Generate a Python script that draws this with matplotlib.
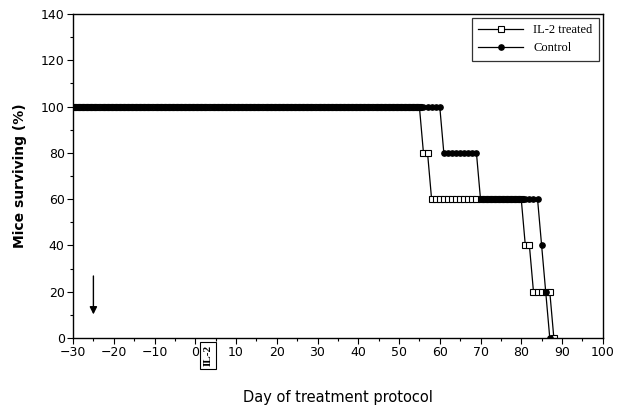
import matplotlib
matplotlib.use("Agg")
import matplotlib.pyplot as plt
import numpy as np

# Data (daily survival, %)
il2_days = list(range(-30, 89))
il2_vals = ([100] * len(range(-30, 56)) + [80] * 2 + [60] * len(range(58, 81))
            + [40] * 2 + [20] * len(range(83, 88)) + [0])
ctrl_days = list(range(-30, 88))
ctrl_vals = ([100] * len(range(-30, 61)) + [80] * len(range(61, 70))
             + [60] * len(range(70, 85)) + [40] + [20] + [0])

x_ticks = list(range(-30, 101, 10))
y_ticks = list(range(0, 141, 20))

fig = plt.figure(figsize=(6.21, 4.12), dpi=100)
ax = fig.add_axes([0.1176, 0.1796, 0.853, 0.7864])

ax.plot(il2_days, il2_vals, color='black', lw=0.9, marker='s', ms=3.8,
        mfc='white', mec='black', mew=0.8, label='IL-2 treated')
ax.plot(ctrl_days, ctrl_vals, color='black', lw=0.9, marker='o', ms=3.8,
        mfc='black', mec='black', label='Control')

ax.set_xlim(-30, 100)
ax.set_ylim(0, 140)
ax.set_xticks(x_ticks)
ax.set_yticks(y_ticks)
ax.set_xticks(np.arange(-25, 100, 10), minor=True)
ax.set_yticks(np.arange(10, 140, 20), minor=True)
ax.tick_params(axis='both', which='major', direction='out', length=4, width=0.8,
               labelsize=9, pad=2)
ax.tick_params(axis='both', which='minor', direction='out', length=2.5, width=0.8)
for s in ax.spines.values():
    s.set_linewidth(1.0)

ax.set_xlabel('Day of treatment protocol', fontsize=10.5, labelpad=22)
ax.set_ylabel('Mice surviving (%)', fontsize=10, fontweight='bold', labelpad=10)

leg = ax.legend(loc='upper right', frameon=True, fancybox=False, edgecolor='black',
                prop={'family': 'Liberation Serif', 'size': 9}, handlelength=3.6,
                borderaxespad=0.3, labelspacing=0.5, borderpad=0.5)
leg.get_frame().set_linewidth(0.9)

# Arrow marking start
ax.annotate('', xy=(-25, 9), xytext=(-25, 28),
            arrowprops=dict(arrowstyle='-|>', color='black', lw=1.0,
                            mutation_scale=11))

# IL-2 treatment box below axis
ax.text(3.2, -3, 'IL-2', rotation=90, ha='center', va='top', fontsize=8,
        family='Liberation Serif', fontweight='bold',
        bbox=dict(boxstyle='square,pad=0.3', fc='white', ec='black', lw=0.8),
        clip_on=False)

fig.savefig('out.png', dpi=100)
